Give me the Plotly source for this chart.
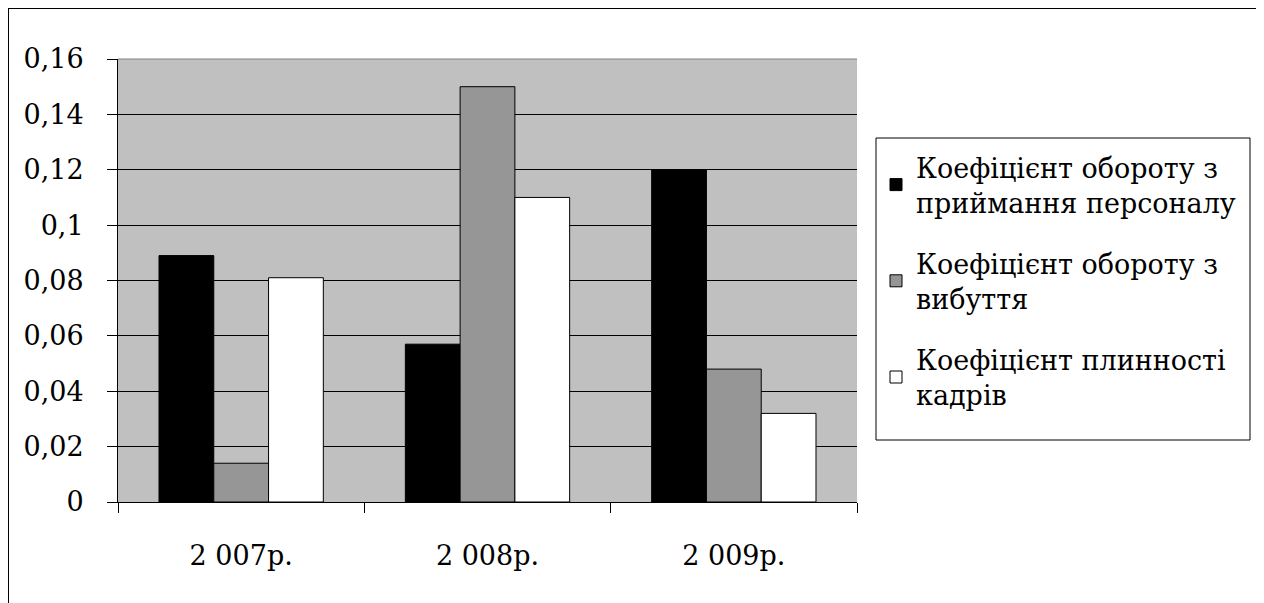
import plotly.graph_objects as go

categories = ["2 007р.", "2 008р.", "2 009р."]
series_names = [
    "Коефіцієнт обороту з<br>приймання персоналу",
    "Коефіцієнт обороту з<br>вибуття",
    "Коефіцієнт плинності<br>кадрів",
]
hire_rate = [0.089, 0.057, 0.12]
leave_rate = [0.014, 0.15, 0.048]
turnover_rate = [0.081, 0.11, 0.032]
ytick_vals = [0, 0.02, 0.04, 0.06, 0.08, 0.1, 0.12, 0.14, 0.16]
ytick_text = ["0", "0,02", "0,04", "0,06", "0,08", "0,1", "0,12", "0,14", "0,16"]

colors = ["#000000", "#969696", "#ffffff"]
FONT = "DejaVu Serif"
FS = 27

fig = go.Figure()
for i, (name, vals, col) in enumerate(zip(series_names, [hire_rate, leave_rate, turnover_rate], colors)):
    fig.add_trace(go.Bar(
        x=categories, y=vals, name=name, legendgroup=f"g{i}",
        marker=dict(color=col, line=dict(color="#000000", width=1)),
    ))

OFF = 8
W, H = 1250, 603
L, R, T, B = 118 - OFF, 857 - OFF, 59 - OFF, 502 - OFF
pw, ph = R - L, B - T

def px(x):
    return (x - OFF - L) / pw

def py(y):
    return (B - (y - OFF)) / ph

fig.update_layout(
    width=W, height=H,
    margin=dict(l=L, r=W - R, t=T, b=H - B),
    paper_bgcolor="#ffffff",
    plot_bgcolor="#c0c0c0",
    barmode="group",
    bargap=0.333,
    bargroupgap=0,
    font=dict(family=FONT, size=FS, color="#000000"),
    showlegend=True,
    legend=dict(
        x=px(876), y=py(143), xanchor="left", yanchor="top",
        borderwidth=0, bgcolor="rgba(0,0,0,0)",
        font=dict(family=FONT, size=FS, color="#000000"),
        traceorder="grouped", tracegroupgap=23,
    ),
    xaxis=dict(
        showline=True, linecolor="#000000", linewidth=1,
        ticks="outside", ticklen=10, tickcolor="#000000", tickson="boundaries",
        ticklabelstandoff=30, showgrid=False, automargin=False,
        tickfont=dict(family=FONT, size=FS),
    ),
    yaxis=dict(
        range=[0, 0.16], tickvals=ytick_vals, ticktext=ytick_text,
        showline=True, linecolor="#000000", linewidth=1,
        ticks="outside", ticklen=10, tickcolor="#000000",
        ticklabelstandoff=18, automargin=False,
        showgrid=True, gridcolor="#000000", gridwidth=1, zeroline=False,
        tickfont=dict(family=FONT, size=FS),
    ),
    shapes=[
        dict(type="rect", xref="paper", yref="paper",
             x0=px(8), x1=px(1257), y0=py(650), y1=py(8),
             line=dict(color="#000000", width=2), fillcolor="rgba(0,0,0,0)", layer="below"),
        dict(type="rect", xref="paper", yref="paper",
             x0=px(876), x1=px(1250), y0=py(440), y1=py(138),
             line=dict(color="#000000", width=1), fillcolor="#ffffff", layer="below"),
        dict(type="line", xref="paper", yref="paper",
             x0=0, x1=1, y0=1, y1=1, line=dict(color="#808080", width=1)),
    ],
)

fig.write_html("out.html")
